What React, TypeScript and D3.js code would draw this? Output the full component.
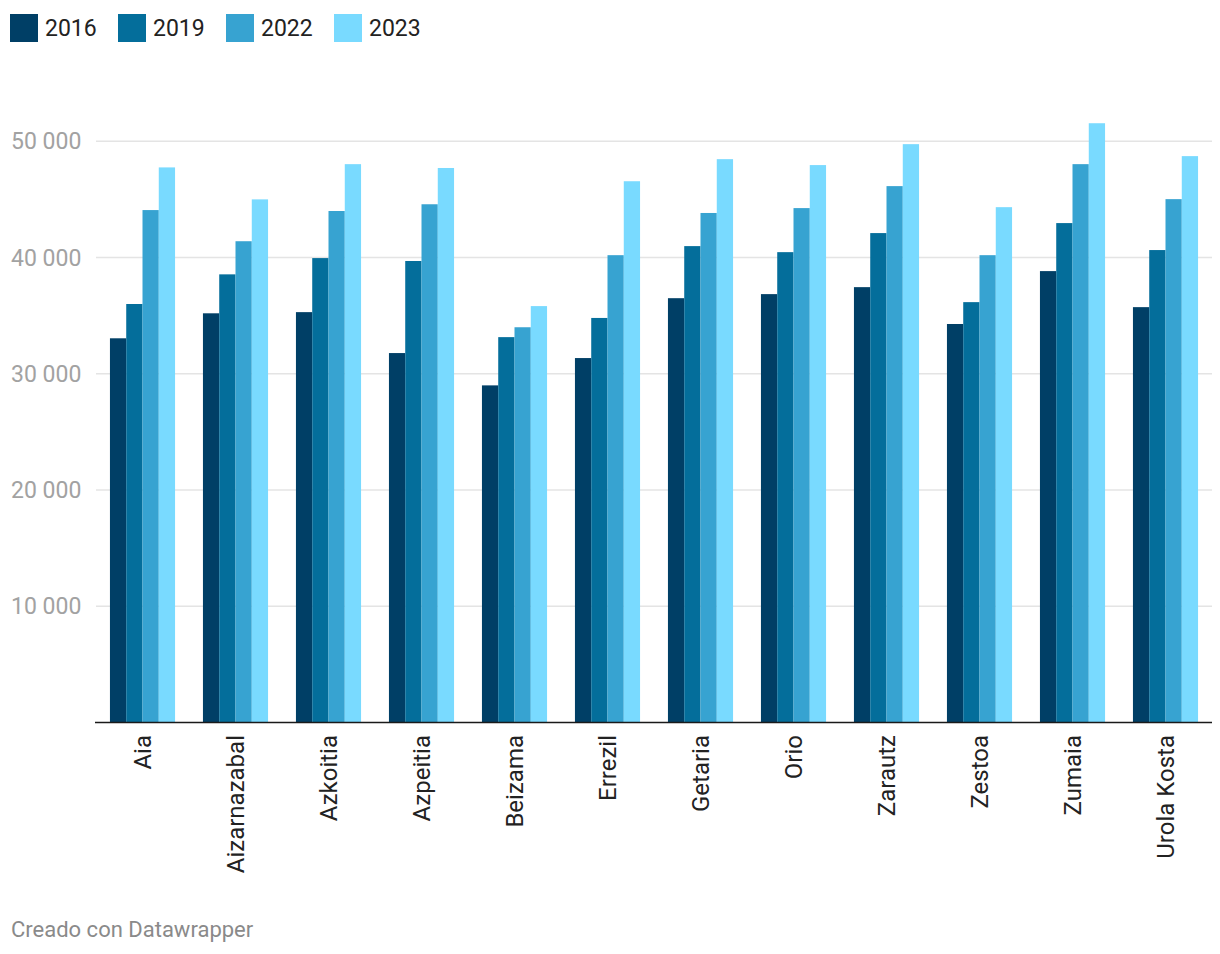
import React from "react";
import * as d3 from "d3";

const categories = ["Aia", "Aizarnazabal", "Azkoitia", "Azpeitia", "Beizama", "Errezil", "Getaria", "Orio", "Zarautz", "Zestoa", "Zumaia", "Urola Kosta"];
const seriesNames = ["2016", "2019", "2022", "2023"];
const colors = ["#003f66", "#046e9b", "#37a3d1", "#79daff"];
const v2016 = [33050, 35200, 35300, 31780, 29000, 31350, 36500, 36850, 37450, 34280, 38830, 35730];
const v2019 = [36000, 38550, 39950, 39700, 33150, 34800, 40980, 40460, 42100, 36160, 42960, 40640];
const v2022 = [44080, 41400, 44000, 44580, 34000, 40200, 43830, 44250, 46140, 40200, 48030, 45020];
const v2023 = [47750, 45000, 48030, 47700, 35820, 46560, 48460, 47950, 49750, 44330, 51550, 48720];
const seriesValues = [v2016, v2019, v2022, v2023];
const yTicks = [10000, 20000, 30000, 40000, 50000];

const W = 1220;
const H = 954;
const plotLeft = 96;
const plotRight = 1212;
const plotBottom = 722.5;
const font = "Roboto, 'Noto Sans', sans-serif";

export default function App() {
  const x = d3.scaleBand<string>().domain(categories).range([plotLeft, plotRight]).paddingInner(0.3).paddingOuter(0.15);
  const xs = d3.scaleBand<string>().domain(seriesNames).range([0, x.bandwidth()]);
  const y = d3.scaleLinear().domain([0, 50000]).range([plotBottom, plotBottom - 5 * 116.25]);
  const fmt = (v: number) => d3.format(",")(v).replace(/,/g, " ");

  return (
    <svg width={W} height={H} style={{ position: "absolute", left: 0, top: 0, background: "#fff" }} fontFamily={font}>
      {/* legend */}
      {seriesNames.map((s, i) => (
        <g key={s} transform={`translate(${10 + i * 108},14)`}>
          <rect width={28} height={28} fill={colors[i]} />
          <text x={35} y={22} fontSize={23} fill="#222">{s}</text>
        </g>
      ))}
      {/* grid */}
      {yTicks.map((t) => (
        <g key={t}>
          <line x1={plotLeft} x2={plotRight} y1={y(t)} y2={y(t)} stroke="#e4e4e4" strokeWidth={1.3} />
          <text x={11} y={y(t) + 8} fontSize={23} fill="#a2a2a2" style={{ whiteSpace: "pre" }}>{fmt(t)}</text>
        </g>
      ))}
      {/* bars */}
      {categories.map((c, ci) => (
        <g key={c} transform={`translate(${x(c)},0)`}>
          {seriesNames.map((s, si) => {
            const v = seriesValues[si][ci];
            return (
              <rect key={s} x={xs(s)} y={y(v)} width={xs.bandwidth()} height={plotBottom - y(v)} fill={colors[si]} />
            );
          })}
        </g>
      ))}
      <line x1={plotLeft - 1} x2={plotRight} y1={plotBottom} y2={plotBottom} stroke="#1a1a1a" strokeWidth={1.6} />
      {/* x labels */}
      {categories.map((c) => {
        const cx = (x(c) as number) + x.bandwidth() / 2;
        return (
          <text key={c} transform={`translate(${cx},735) rotate(-90)`} textAnchor="end" dy="0.35em" fontSize={24} fill="#222">
            {c}
          </text>
        );
      })}
      <text x={11} y={937} fontSize={22} fill="#8a8a8a">Creado con Datawrapper</text>
    </svg>
  );
}
